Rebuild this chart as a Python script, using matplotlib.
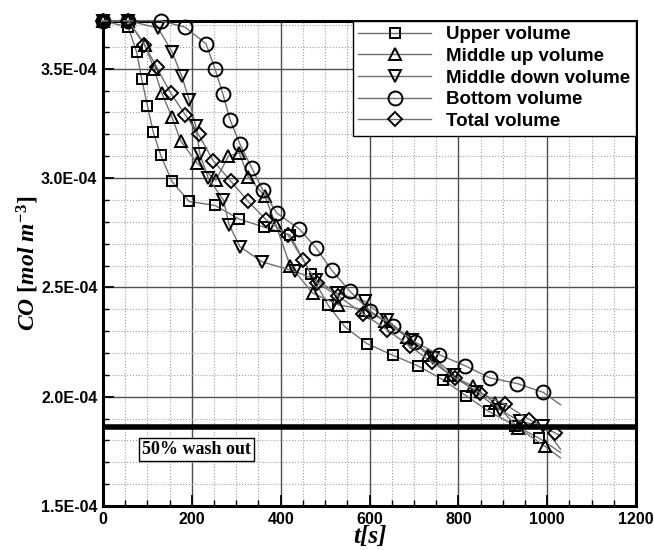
import numpy as np
import matplotlib
matplotlib.use("Agg")
import matplotlib.pyplot as plt
from matplotlib.ticker import MultipleLocator, FuncFormatter

plt.rcParams['mathtext.fontset'] = 'custom'
plt.rcParams['mathtext.it'] = 'Liberation Serif:italic:bold'
plt.rcParams['mathtext.rm'] = 'Liberation Serif:bold'
plt.rcParams['mathtext.bf'] = 'Liberation Serif:bold'

# CO concentration in units of 1E-04 mol m^-3, last point of each series is line end (no marker)
upper_t = [0, 57, 76, 87, 100, 113, 130, 155, 194, 252, 306, 362, 421, 468, 507, 545, 594, 652,
           710, 765, 817, 868, 928, 982, 1030]
upper_v = [3.72, 3.69, 3.575, 3.454, 3.331, 3.211, 3.104, 2.985, 2.893, 2.875, 2.813, 2.776, 2.74,
           2.56, 2.418, 2.319, 2.243, 2.19, 2.14, 2.078, 2.005, 1.933, 1.868, 1.81, 1.745]

midup_t = [0, 57, 94, 115, 132, 155, 175, 211, 254, 282, 307, 327, 365, 389, 421, 472, 530, 590,
           635, 684, 732, 781, 834, 882, 935, 995, 1030]
midup_v = [3.72, 3.72, 3.61, 3.50, 3.39, 3.28, 3.17, 3.07, 2.99, 3.10, 3.115, 3.005, 2.916, 2.787,
           2.60, 2.474, 2.42, 2.398, 2.345, 2.273, 2.19, 2.10, 2.047, 1.97, 1.857, 1.773, 1.72]

middown_t = [0, 57, 124, 155, 177, 194, 209, 218, 237, 271, 284, 308, 358, 432, 480, 526, 590,
             640, 695, 744, 790, 840, 894, 939, 991, 1030]
middown_v = [3.72, 3.72, 3.686, 3.579, 3.468, 3.358, 3.236, 3.11, 3.0, 2.90, 2.786, 2.687, 2.617,
             2.573, 2.535, 2.474, 2.436, 2.35, 2.26, 2.177, 2.10, 2.02, 1.94, 1.887, 1.865, 1.76]

bottom_t = [0, 57, 130, 185, 232, 252, 270, 286, 308, 335, 360, 391, 442, 480, 515, 556, 600,
            652, 702, 757, 815, 871, 933, 991, 1030]
bottom_v = [3.72, 3.72, 3.72, 3.69, 3.614, 3.50, 3.384, 3.267, 3.157, 3.046, 2.944, 2.84, 2.767,
            2.68, 2.578, 2.482, 2.393, 2.325, 2.25, 2.192, 2.142, 2.086, 2.06, 2.02, 1.963]

total_t = [0, 57, 93, 121, 152, 185, 215, 248, 288, 327, 367, 417, 450, 482, 530, 585, 639, 691,
           740, 792, 849, 905, 960, 1018, 1030]
total_v = [3.72, 3.72, 3.61, 3.506, 3.39, 3.29, 3.20, 3.08, 2.985, 2.893, 2.81, 2.738, 2.627,
           2.52, 2.46, 2.38, 2.307, 2.23, 2.16, 2.086, 2.017, 1.965, 1.895, 1.834, 1.82]

washout = 1.862
scale = 1e-4

series = [
    ("Upper volume", upper_t, upper_v, "s", 7),
    ("Middle up volume", midup_t, midup_v, "^", 8),
    ("Middle down volume", middown_t, middown_v, "v", 8),
    ("Bottom volume", bottom_t, bottom_v, "o", 10),
    ("Total volume", total_t, total_v, "D", 7),
]

fig = plt.figure(figsize=(6.54, 5.5), dpi=100)
ax = fig.add_axes([0.1575, 0.08, 0.815, 0.8824])

for name, t, v, mk, ms in series:
    ax.plot(t, np.array(v) * scale, color="#707070", lw=1.0,
            marker=mk, ms=ms, mfc="none", mec="black", mew=1.4,
            markevery=list(range(len(t) - 1)), label=name, clip_on=False, zorder=3)

ax.axhline(washout * scale, color="black", lw=4, zorder=4)
ax.text(88, 1.758 * scale, "50% wash out", fontsize=13, fontweight="bold",
        family="Liberation Serif", va="center", ha="left", zorder=5,
        bbox=dict(boxstyle="square,pad=0.15", fc="white", ec="black", lw=1))

ax.set_xlim(0, 1200)
ax.set_ylim(1.5e-4, 3.72e-4)
ax.xaxis.set_major_locator(MultipleLocator(200))
ax.xaxis.set_minor_locator(MultipleLocator(50))
ax.yaxis.set_major_locator(MultipleLocator(0.5e-4))
ax.yaxis.set_minor_locator(MultipleLocator(0.1e-4))
ax.yaxis.set_major_formatter(FuncFormatter(lambda v, p: f"{v:.1E}"))

ax.grid(which="major", color="#505050", lw=1.0, ls="-")
ax.grid(which="minor", color="#a0a0a0", lw=0.8, ls=":")
ax.set_axisbelow(True)

ax.tick_params(which="major", direction="in", length=8, width=1.3, labelsize=11.5, pad=4)
ax.tick_params(which="minor", direction="in", length=4, width=1.0)
for lab in ax.get_xticklabels() + ax.get_yticklabels():
    lab.set_fontweight("bold")
    lab.set_family("Liberation Sans")
for sp in ax.spines.values():
    sp.set_linewidth(2.2)

ax.set_xlabel("t[s]", family="Liberation Serif", style="italic", weight="bold",
              fontsize=18, labelpad=-1)
ax.set_ylabel(r"$CO\ [mol\ m^{-3}]$", fontsize=17, labelpad=0)

leg = ax.legend(loc="upper right", bbox_to_anchor=(1.0, 1.0), borderaxespad=0,
                prop={"family": "Liberation Sans", "weight": "bold", "size": 13.5},
                handlelength=3.9, handletextpad=0.8, borderpad=0.3, labelspacing=0.24,
                numpoints=1, fancybox=False, framealpha=1, edgecolor="black")
leg.get_frame().set_linewidth(1.0)
leg.set_zorder(6)

fig.savefig("out.png", dpi=100)
